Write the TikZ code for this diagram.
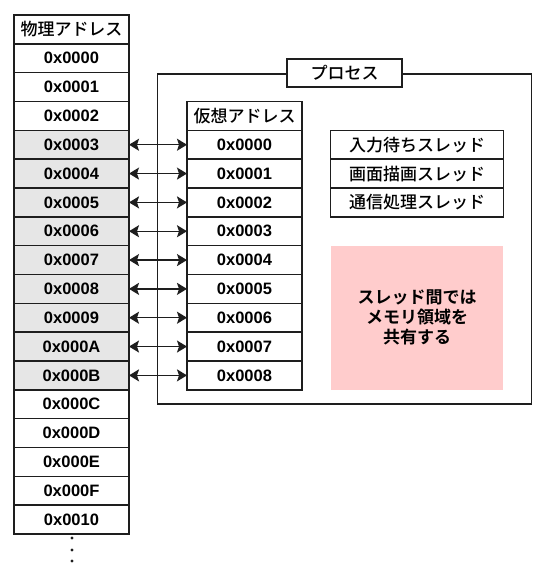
\documentclass[tikz,border=0pt]{standalone}
\usepackage{fontspec}
\setmainfont{Liberation Sans}
\newfontfamily\jp{Noto Sans CJK JP Medium}[BoldFont={Noto Sans CJK JP Bold}]
\usetikzlibrary{arrows.meta}
\definecolor{linec}{HTML}{1E1E1E}
\definecolor{cellgray}{HTML}{E6E6E6}
\definecolor{sharepink}{HTML}{FFCCCC}
\tikzset{
  cell/.style={draw=linec, line width=1.5pt, minimum width=115pt, minimum height=28.83pt,
    inner sep=0pt, outer sep=0pt, font=\fontsize{16.5}{19}\selectfont\bfseries, fill=white},
  grcell/.style={cell, fill=cellgray},
  hdcell/.style={cell, font=\fontsize{17}{19}\selectfont\jp},
  thcell/.style={cell, minimum width=172.6pt, font=\fontsize{17}{19}\selectfont\jp},
  maparrow/.style={draw=linec, fill=linec, line width=1.4pt, >={Stealth[length=10pt,width=12pt,inset=2pt]}, <->},
}
\begin{document}
\begin{tikzpicture}[x=1pt,y=-1pt]
\useasboundingbox (0,0) rectangle (548,574);
\def\h{28.83}
% process frame
\node[draw=linec, line width=1.5pt, minimum width=374pt, minimum height=330pt, inner sep=0pt, outer sep=0pt] (proc) at (344.7,239) {};
\node[hdcell, minimum height=28pt] (plabel) at (344.5,73) {プロセス};
% physical addresses
\node[hdcell] (p0) at (71.5,{15+0.5*\h}) {物理アドレス};
\foreach \i/\t in {1/0000,2/0001,3/0002,13/000C,14/000D,15/000E,16/000F,17/0010}
  \node[cell] (p\i) at (71.5,{15+(\i+0.5)*\h}) {0x\t};
\foreach \i/\t in {4/0003,5/0004,6/0005,7/0006,8/0007,9/0008,10/0009,11/000A,12/000B}
  \node[grcell] (p\i) at (71.5,{15+(\i+0.5)*\h}) {0x\t};
% virtual addresses
\node[hdcell] (v0) at (244.5,{15+3.5*\h}) {仮想アドレス};
\foreach \k/\t in {1/0000,2/0001,3/0002,4/0003,5/0004,6/0005,7/0006,8/0007,9/0008}
  \node[cell] (v\k) at (244.5,{15+(\k+3.5)*\h}) {0x\t};
% mapping arrows
\foreach \k in {1,...,9}{
  \pgfmathtruncatemacro\pp{\k+3}
  \draw[maparrow] (p\pp.east) -- (v\k.west);
}
% threads
\node[thcell] (t1) at (417,{15+4.5*\h}) {入力待ちスレッド};
\node[thcell] (t2) at (417,{15+5.5*\h}) {画面描画スレッド};
\node[thcell] (t3) at (417,{15+6.5*\h}) {通信処理スレッド};
% shared memory note
\node[fill=sharepink, minimum width=172.6pt, minimum height=144.2pt, inner sep=0pt,
  align=center, font=\fontsize{17}{20}\selectfont\jp\bfseries] (share) at (417,{15+10.5*\h})
  {スレッド間では\\メモリ領域を\\共有する};
% continuation dots
\foreach \y/\n in {538/d1,550/d2,561/d3}
  \fill[linec] (72,\y) circle (1.7pt) coordinate (\n);
\end{tikzpicture}
\end{document}
